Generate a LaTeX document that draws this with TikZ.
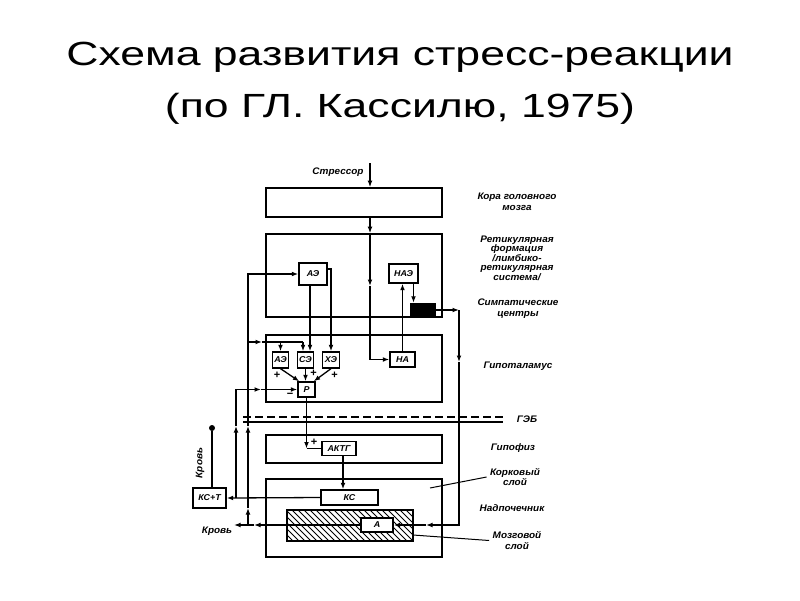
\documentclass[tikz,border=0pt]{standalone}
\usepackage{fontspec}
\setmainfont{Liberation Sans}
\newfontfamily\titlefont[FakeStretch=1.33]{Liberation Sans}
\newfontfamily\drawfont[FakeStretch=1.05]{Liberation Sans}
\usetikzlibrary{positioning, arrows.meta}

\begin{document}
\begin{tikzpicture}[x=1pt, y=-1pt,
  organ/.style={draw, line width=1.6pt, minimum width=176, minimum height=#1, inner sep=0pt},
  unit/.style={draw, line width=1.3pt, fill=white, inner sep=0pt, font=\drawfont\bfseries\itshape\fontsize{8.5}{9}\selectfont},
  lbl/.style={font=\drawfont\bfseries\itshape\fontsize{9.5}{10.5}\selectfont, align=center},
  wire/.style={line width=1.3pt},
  arr/.style={wire, -{Latex[length=6.5pt, width=4.8pt]}},
  sign/.style={font=\bfseries\fontsize{11}{11}\selectfont, inner sep=0pt},
  blooddot/.style={circle, fill, inner sep=0pt, minimum size=6pt}
]
\useasboundingbox (0,0) rectangle (800,600);

% ---------- TITLE ----------
\node[font=\titlefont\fontsize{33.5}{40}\selectfont, anchor=base] (title1) at (400,65) {Схема развития стресс-реакции};
\node[font=\titlefont\fontsize{33.5}{40}\selectfont, anchor=base] (title2) at (400,117) {(по ГЛ. Кассилю, 1975)};

% ---------- BRAIN LEVELS ----------
\node[organ=29] (cortex) at (354,202.5) {};
\node[organ=83] (ret) at (354,275.5) {};
\node[organ=67] (hyp) at (354,368.5) {};
\node[organ=28] (pit) at (354,449) {};
\node[organ=78] (adr) at (354,518) {};

\node[unit, minimum width=28, minimum height=22] (aeR) at (313,274) {АЭ};
\node[unit, minimum width=29, minimum height=19] (nae) at (403.5,273.5) {НАЭ};
\node[draw, fill=black, minimum width=25, minimum height=14, inner sep=0pt] (symp) at (422.5,310) {};

\node[unit, minimum width=16, minimum height=16] (aeH) at (280.5,360) {АЭ};
\node[unit, minimum width=16, minimum height=16] (seH) at (305.5,360) {СЭ};
\node[unit, minimum width=17, minimum height=16] (xeH) at (331,360) {ХЭ};
\node[unit, minimum width=17, minimum height=15] (p) at (306.5,389.5) {Р};
\node[unit, minimum width=25, minimum height=15] (na) at (402.5,359.5) {НА};

% ---------- PITUITARY + ADRENAL ----------
\node[unit, minimum width=34, minimum height=14] (akt) at (339,448.5) {АКТГ};
\node[unit, minimum width=57, minimum height=15] (ks) at (349.5,497.5) {КС};
\node[draw, line width=1.3pt, minimum width=126, minimum height=31, inner sep=0pt] (med) at (350,525.5) {};
\begin{scope}
\clip (med.south west) rectangle (med.north east);
\foreach \hx in {250,256,...,416} \draw[line width=1pt] (\hx,510) -- ++(31,31);
\end{scope}
\node[unit, minimum width=32, minimum height=14] (a) at (377,525) {А};
\node[unit, minimum width=33, minimum height=20] (kst) at (209.5,498) {КС+Т};
\node[blooddot] (bloodTop) at (212,428) {};

% ---------- BBB ----------
\draw[wire, dash pattern=on 8pt off 4pt] (243,417) -- (503,417);
\draw[wire] (243,422) -- (503,422);

% ---------- CONNECTORS ----------
\coordinate (stressIn) at (370,163);
\coordinate (retMid) at (370,286);
\coordinate (bloodOut) at (234,525);
\coordinate (bloodMid) at (254,525);
\coordinate (vA) at (248,525);
\coordinate (vA1) at (248,508);
\coordinate (vA2) at (248,426);
\coordinate (vB) at (236,498);
\coordinate (vB1) at (236,426);
\coordinate (vB2) at (261,389.5);
\coordinate (jH) at (248,342);
\coordinate (jH1) at (262,342);
\coordinate (jS) at (303,342);
\coordinate (rTop) at (459,310);
\coordinate (rMid) at (459,362);
\coordinate (rC) at (459,525);
\coordinate (rLeft) at (426,525);

% stressor -> cortex -> reticular -> NA
\draw[arr] (stressIn) -- (stressIn |- cortex.north);
\draw[arr] (cortex.south -| stressIn) -- (ret.north -| stressIn);
\draw[arr] (ret.north -| stressIn) -- (retMid);
\draw[arr] (retMid) |- (na.west);
\draw[arr] (na.north) -- (na.north |- nae.south);
\draw[arr] ([xshift=10pt]nae.south) -- ([xshift=10pt]nae.south |- symp.north);

% sympathetic centres -> adrenal medulla
\draw[arr] (symp.east) -- (rTop);
\draw[arr] (rTop) -- (rMid);
\draw[arr] (rMid) -- (rC) -- (rLeft);
\draw[arr] (rLeft) -- (a.east);

% blood feedback -> emotions
\draw[arr] (vA) -- (vA1);
\draw[arr] (vA1) -- (vA2);
\draw[arr] (vA2) |- (aeR.west);
\draw[arr] (jH) -- (jH1);
\draw[wire] (jH1) -- (jS);
\draw[arr] (jH -| aeH.north) -- (aeH.north);
\draw[arr] (jS) -- (jS |- seH.north);
\draw[arr] ([xshift=-3pt]aeR.south) -- ([xshift=-3pt]aeR.south |- seH.north);
\draw[arr] ([yshift=5pt]aeR.east) -| (xeH.north);
\draw[arr] (aeH.south) -- ([xshift=2pt]p.north west);
\draw[arr] (seH.south) -- (seH.south |- p.north);
\draw[arr] (xeH.south) -- ([xshift=-2pt]p.north east);

% corticosteroids -> regulator
\draw[arr] (vB) -- (vB1);
\draw[arr] (vB1) |- (vB2);
\draw[arr] (vB2) -- (p.west);

% regulator -> ACTH -> corticosteroids
\draw[arr] (p.south) -- (p.south |- akt.west);
\draw[wire] (p.south |- akt.west) -- (akt.west);
\draw[arr] ([xshift=4pt]akt.south) -- ([xshift=4pt]akt.south |- ks.north);
\draw[arr] (ks.west) -- (kst.east);
\draw[arr] (a.west) -- (bloodMid);
\draw[arr] (bloodMid) -- (bloodOut);
\draw[wire] (bloodTop) -- (bloodTop |- kst.north);

% ---------- SIGNS ----------
\node[sign] (plusA) at (277,375) {+};
\node[sign] (plusS) at (313.5,373) {+};
\node[sign] (plusX) at (334.5,375) {+};
\node[sign] (minusP) at (290,395) {−};
\node[sign] (plusK) at (314,442) {+};

% ---------- LABELS ----------
\node[lbl] (stressLbl) at (338,172) {Стрессор};
\node[lbl] (cortexLbl) at (517,202) {Кора головного\\мозга};
\node[lbl, font=\drawfont\bfseries\itshape\fontsize{9.5}{8.5}\selectfont] (retLbl) at (517,258) {Ретикулярная\\формация\\/лимбико-\\ретикулярная\\система/};
\node[lbl] (sympLbl) at (518,308.5) {Симпатические\\центры};
\node[lbl] (hypLbl) at (518,366) {Гипоталамус};
\node[lbl] (bbbLbl) at (527,419) {ГЭБ};
\node[lbl] (pitLbl) at (513,448) {Гипофиз};
\node[lbl] (cortLbl) at (515,477) {Корковый\\слой};
\node[lbl] (adrLbl) at (512,508) {Надпочечник};
\node[lbl] (medLbl) at (517,540.5) {Мозговой\\слой};
\node[lbl, rotate=90] (bloodLbl1) at (200,463) {Кровь};
\node[lbl] (bloodLbl2) at (217,531) {Кровь};

\coordinate (cortTip) at (430,488);
\coordinate (medTip) at (413,535);
\draw[line width=1pt] (cortTip) -- (cortLbl.west);
\draw[line width=1pt] (medTip) -- (medLbl.west);

\end{tikzpicture}
\end{document}
